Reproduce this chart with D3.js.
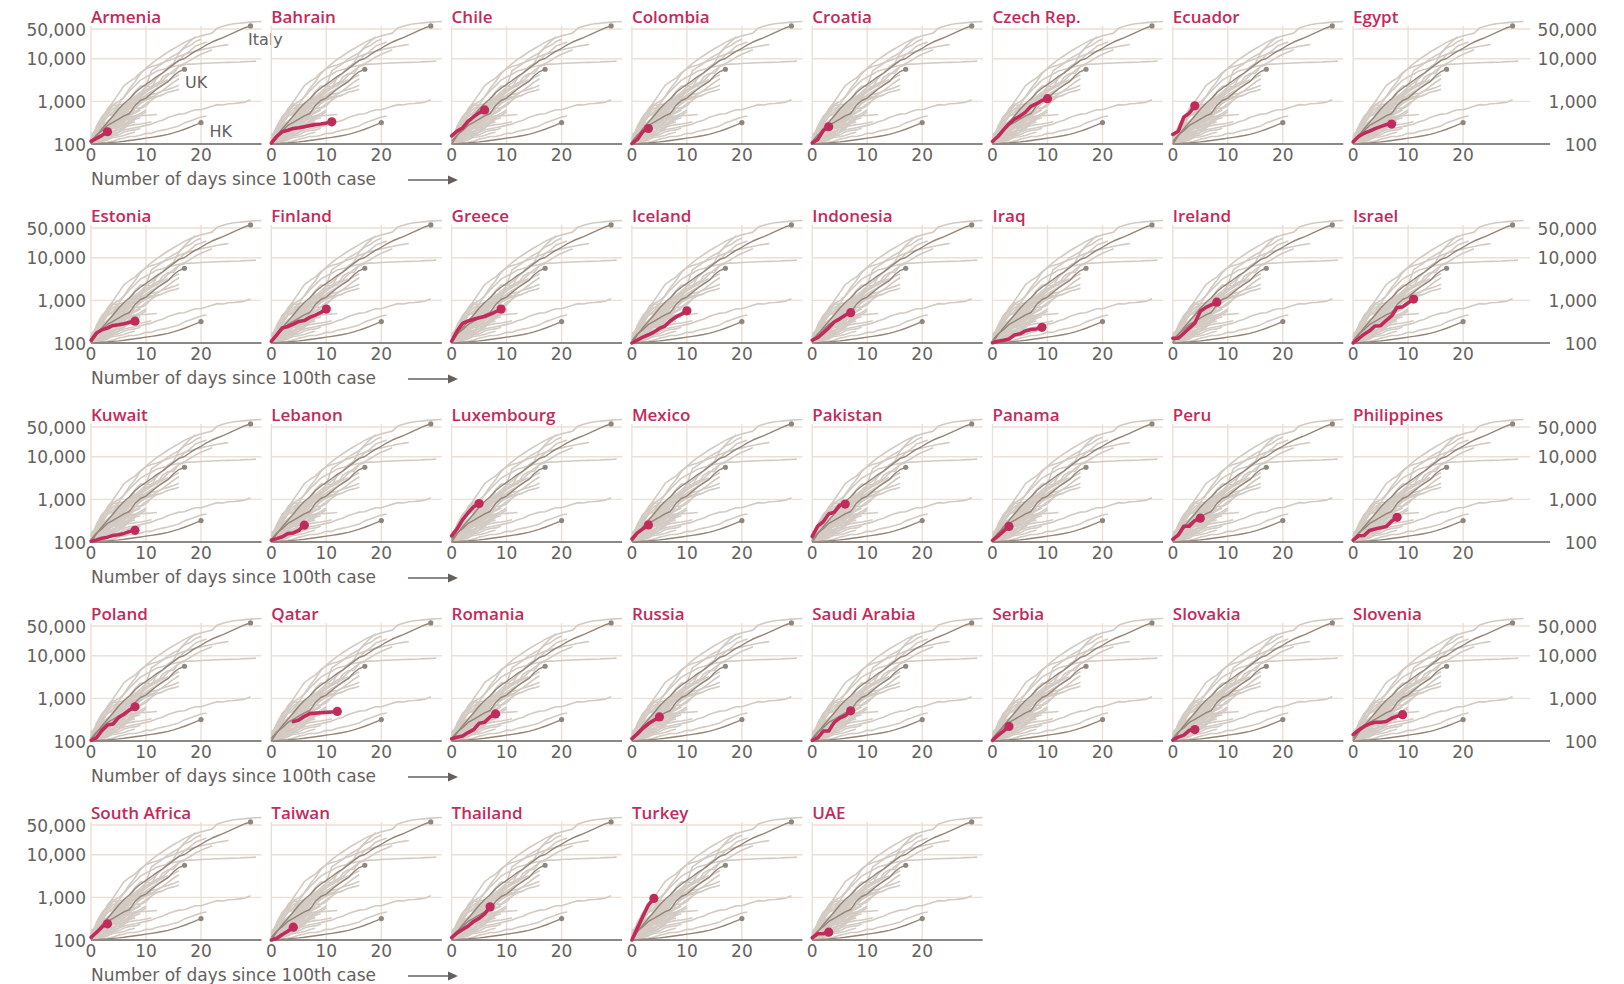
<!DOCTYPE html>
<html>
<head>
<meta charset="utf-8">
<script src="https://cdn.jsdelivr.net/npm/d3@7/dist/d3.min.js"></script>
<style>
  html, body { margin: 0; padding: 0; background: #fff; }
  svg { display: block; font-family: "DejaVu Sans", sans-serif; }
</style>
</head>
<body>
<svg id="chart" width="1624" height="984"></svg>
<script>
// countries highlighted in red, one panel each
const countries = ["Armenia", "Bahrain", "Chile", "Colombia", "Croatia", "Czech Rep.", "Ecuador", "Egypt",
  "Estonia", "Finland", "Greece", "Iceland", "Indonesia", "Iraq", "Ireland", "Israel",
  "Kuwait", "Lebanon", "Luxembourg", "Mexico", "Pakistan", "Panama", "Peru", "Philippines",
  "Poland", "Qatar", "Romania", "Russia", "Saudi Arabia", "Serbia", "Slovakia", "Slovenia",
  "South Africa", "Taiwan", "Thailand", "Turkey", "UAE"];

// cumulative cases, one value per day from day 0
const countryCases = [
  [115, 136, 160, 194],
  [105, 150, 195, 210, 230, 240, 255, 270, 285, 295, 310, 332],
  [155, 201, 238, 342, 434, 537, 632],
  [102, 128, 196, 231],
  [105, 128, 206, 254],
  [116, 150, 214, 298, 383, 450, 560, 765, 889, 1047, 1161],
  [168, 199, 426, 532, 789],
  [113, 150, 179, 200, 230, 256, 285, 294],
  [115, 171, 205, 225, 258, 267, 283, 306, 326],
  [109, 155, 225, 244, 277, 321, 336, 400, 450, 523, 626],
  [110, 190, 290, 330, 360, 390, 420, 470, 540, 624],
  [100, 117, 138, 156, 180, 220, 250, 330, 409, 473, 568],
  [117, 134, 172, 227, 311, 369, 450, 514],
  [101, 110, 116, 124, 154, 164, 192, 208, 214, 233],
  [129, 129, 169, 223, 292, 557, 683, 785, 906],
  [100, 126, 161, 193, 251, 255, 337, 433, 677, 705, 883, 1071],
  [104, 112, 123, 130, 142, 148, 159, 176, 188],
  [110, 120, 133, 157, 163, 187, 248],
  [140, 203, 335, 484, 670, 798],
  [118, 164, 203, 251],
  [136, 236, 299, 454, 501, 730, 776],
  [109, 137, 180, 232],
  [117, 145, 234, 234, 318, 363],
  [111, 140, 142, 187, 202, 217, 230, 307, 380],
  [104, 119, 177, 238, 251, 355, 425, 536, 634],
  [285, 310, 380, 440, 452, 460, 470, 481, 494],
  [113, 123, 131, 158, 184, 260, 277, 367, 433],
  [114, 147, 199, 253, 306, 367],
  [103, 118, 171, 171, 274, 344, 392, 511],
  [103, 135, 171, 220],
  [105, 123, 137, 178, 185],
  [141, 181, 219, 253, 275, 275, 286, 341, 383, 414],
  [116, 150, 202, 240],
  [100, 110, 135, 160, 200],
  [114, 147, 177, 212, 272, 322, 411, 599],
  [100, 190, 360, 670, 947],
  [113, 140, 140, 153]
];

// series whose first value is not on day 0
const startDay = new Map([["Qatar", 4]]);

// reference countries drawn in brown
const italy = [100, 155, 229, 322, 453, 655, 888, 1150, 1600, 2036, 2502, 3089, 3858, 4636, 5883, 7375,
  9172, 10149, 12462, 15113, 17660, 21157, 24747, 27980, 31506, 35713, 41035, 47021, 53578, 59138];
const uk = [115, 163, 206, 273, 321, 382, 456, 520, 798, 1050, 1200, 1543, 1950, 2400, 2900, 3983, 5018, 5683];
const hk = [100, 102, 104, 106, 109, 112, 116, 121, 126, 131, 137, 143, 150, 158, 168, 182, 200, 222, 250, 280, 318];

// other countries, grey in every panel
const otherNames = ["China", "Iran", "Spain", "Germany", "US", "France", "South Korea", "Switzerland",
  "Netherlands", "Belgium", "Austria", "Norway", "Sweden", "Denmark", "Portugal", "Brazil", "Canada",
  "Australia", "Malaysia", "India", "Japan", "Singapore", "Argentina"];
const otherCases = [
  [100, 200, 290, 440, 570, 830, 1290, 2000, 2900, 4500, 6000, 7700, 9700, 11800, 14400, 17200, 20400,
    24300, 28000, 31200, 34500, 37200, 40000, 53000, 58000, 63000, 66400, 68500, 70500, 72400, 74200, 75000],
  [139, 245, 388, 593, 978, 1501, 2336, 2922, 3513, 4747, 5823, 6566, 7161, 8042, 9000, 10075, 11364,
    12729, 13938, 14991, 16169, 17361, 18407, 19644, 20610, 21638],
  [120, 165, 222, 259, 400, 500, 673, 1073, 1695, 2277, 2277, 5232, 6391, 7798, 9942, 11748, 13910,
    17963, 20410, 25374, 28768],
  [130, 159, 196, 262, 482, 670, 799, 1040, 1176, 1457, 1908, 2078, 3675, 4585, 5795, 7272, 9257,
    12327, 15320, 19848, 22213, 24873],
  [118, 149, 217, 262, 402, 518, 583, 959, 1281, 1663, 2179, 2727, 3499, 4632, 6421, 7783, 13747,
    19273, 25600, 33276],
  [100, 130, 191, 204, 288, 380, 656, 959, 1136, 1219, 1794, 2293, 2293, 3681, 4496, 4532, 6683, 7715,
    9124, 10970, 12758, 14463, 16243],
  [104, 204, 433, 602, 833, 977, 1261, 1766, 2337, 3150, 3736, 4335, 5186, 5621, 6088, 6593, 7041, 7314,
    7478, 7513, 7755, 7869, 7979, 8086, 8162, 8236, 8320, 8413, 8565, 8652, 8799],
  [114, 214, 268, 337, 374, 491, 652, 652, 1139, 1359, 2200, 2200, 2700, 3028, 4075, 5294, 6575, 7245],
  [128, 188, 265, 321, 382, 503, 503, 804, 959, 1135, 1413, 1705, 2051, 2460, 2994, 3631, 4204],
  [109, 169, 200, 239, 267, 314, 314, 559, 689, 886, 1058, 1243, 1486, 1795, 2257, 2815, 3401],
  [104, 131, 182, 246, 302, 504, 655, 860, 1018, 1332, 1646, 2013, 2388, 2814, 3244],
  [108, 147, 176, 205, 400, 598, 702, 996, 1090, 1221, 1333, 1463, 1550, 1746, 1914, 2118, 2385],
  [137, 161, 203, 248, 355, 500, 599, 814, 961, 1022, 1103, 1190, 1279, 1439, 1639, 1763, 1934],
  [100, 262, 442, 615, 801, 827, 864, 914, 977, 1057, 1151, 1255, 1326, 1395],
  [112, 169, 245, 331, 448, 448, 785, 1020, 1280, 1600],
  [151, 162, 200, 321, 372, 621, 793, 1021, 1546],
  [108, 117, 193, 198, 252, 415, 478, 657, 800, 943, 1277, 1465],
  [107, 128, 128, 200, 250, 297, 377, 452, 568, 681, 791, 1071, 1314],
  [129, 149, 197, 238, 428, 566, 673, 790, 900, 1030, 1183, 1306],
  [102, 113, 119, 142, 156, 194, 244, 330, 396],
  [105, 132, 144, 156, 170, 189, 214, 228, 241, 256, 274, 293, 331, 360, 420, 461, 502, 511, 581, 639,
    639, 701, 773, 839, 825, 878, 889, 924, 963, 1086],
  [106, 108, 110, 110, 117, 130, 138, 150, 150, 160, 178, 178, 200, 212, 226, 243, 266, 313, 345, 385, 432, 455],
  [128, 158, 225]
];

const yTicks = [100, 1000, 10000, 50000];
const xTicks = [0, 10, 20];
const refLabels = [["Italy", 157, 16], ["UK", 94, 58.5], ["HK", 118.5, 108]];

const RED = "#c12b5c", GREY = "#d3cbc3", BROWN = "#958577", TEXT = "#66605c", GRID = "#ecdfd5";
const nCols = 8, colX0 = 91, colStep = 180.3, rowTop = 29, rowStep = 199;
const plotW = 170.5, plotH = 115;

const svg = d3.select("#chart");
svg.append("rect").attr("width", 1624).attr("height", 984).attr("fill", "#fff");

const x = d3.scaleLinear().domain([0, 31]).range([0, plotW]);
const y = d3.scaleLog().domain([100, 50000]).range([plotH, 0]);

function lineFor(start) {
    return d3.line().x((d, i) => x(start + i)).y(d => y(d));
}

countries.forEach((name, i) => {
    const c = i % nCols, r = Math.floor(i / nCols);
    const lastCol = (c === nCols - 1);
    const g = svg.append("g")
        .attr("transform", `translate(${colX0 + c * colStep},${rowTop + r * rowStep})`);

    // grid
    const gridRight = lastCol ? 177 : plotW;
    g.selectAll(".hgrid").data(yTicks.slice(1)).join("line")
        .attr("x1", 0).attr("x2", gridRight)
        .attr("y1", d => y(d)).attr("y2", d => y(d))
        .attr("stroke", GRID).attr("stroke-width", 1.4);
    g.selectAll(".vgrid").data(xTicks).join("line")
        .attr("x1", d => x(d)).attr("x2", d => x(d))
        .attr("y1", -3).attr("y2", plotH)
        .attr("stroke", GRID).attr("stroke-width", 1.4);
    g.append("line")
        .attr("x1", 0).attr("x2", lastCol ? 197 : plotW)
        .attr("y1", plotH).attr("y2", plotH)
        .attr("stroke", TEXT).attr("stroke-width", 1.3);

    // x tick labels
    g.selectAll(".xlab").data(xTicks).join("text")
        .attr("x", d => x(d)).attr("y", plotH + 17)
        .attr("text-anchor", "middle").attr("font-size", 17).attr("fill", TEXT)
        .text(d => d);

    if (c === 0) {
        g.selectAll(".ylab").data(yTicks).join("text")
            .attr("x", -5).attr("y", d => y(d) + 6.5)
            .attr("text-anchor", "end").attr("font-size", 17).attr("fill", TEXT)
            .text(d => d3.format(",")(d));
        g.append("text")
            .attr("x", 0).attr("y", plotH + 41)
            .attr("font-size", 17).attr("fill", TEXT)
            .text("Number of days since 100th case");
        g.append("line")
            .attr("x1", 317).attr("x2", 359)
            .attr("y1", plotH + 36).attr("y2", plotH + 36)
            .attr("stroke", TEXT).attr("stroke-width", 1.3);
        g.append("path")
            .attr("d", `M${357},${plotH + 31.5} L${367},${plotH + 36} L${357},${plotH + 40.5} Z`)
            .attr("fill", TEXT);
    }
    if (lastCol) {
        g.selectAll(".ylabr").data(yTicks).join("text")
            .attr("x", 244).attr("y", d => y(d) + 6.5)
            .attr("text-anchor", "end").attr("font-size", 17).attr("fill", TEXT)
            .text(d => d3.format(",")(d));
    }

    // grey lines: every other country
    const greys = otherCases.map(v => ({ v, s: 0 }))
        .concat(countryCases.map((v, j) => ({ v, s: startDay.get(countries[j]) || 0 })));
    g.selectAll(".grey").data(greys).join("path")
        .attr("d", d => lineFor(d.s)(d.v))
        .attr("fill", "none").attr("stroke", GREY).attr("stroke-width", 1.6)
        .attr("stroke-linejoin", "round");

    // brown reference lines
    [italy, uk, hk].forEach(v => {
        g.append("path").attr("d", lineFor(0)(v))
            .attr("fill", "none").attr("stroke", BROWN).attr("stroke-width", 1.4)
            .attr("stroke-linejoin", "round");
        g.append("circle")
            .attr("cx", x(v.length - 1)).attr("cy", y(v[v.length - 1])).attr("r", 2.6)
            .attr("fill", "#8f877f");
    });

    if (i === 0) {
        g.selectAll(".ref").data(refLabels).join("text")
            .attr("x", d => d[1]).attr("y", d => d[2])
            .attr("font-size", 16).attr("fill", TEXT)
            .text(d => d[0]);
    }

    // highlighted country
    const vals = countryCases[i];
    const s = startDay.get(name) || 0;
    g.append("path").attr("d", lineFor(s)(vals))
        .attr("fill", "none").attr("stroke", RED).attr("stroke-width", 3.6)
        .attr("stroke-linejoin", "round").attr("stroke-linecap", "round");
    g.append("circle")
        .attr("cx", x(s + vals.length - 1)).attr("cy", y(vals[vals.length - 1])).attr("r", 4.6)
        .attr("fill", RED);

    g.append("text")
        .attr("x", 0).attr("y", -6.5)
        .attr("font-family", "'Open Sans', sans-serif")
        .attr("font-size", 17).attr("font-weight", 600).attr("fill", RED)
        .text(name);
});
</script>
</body>
</html>
